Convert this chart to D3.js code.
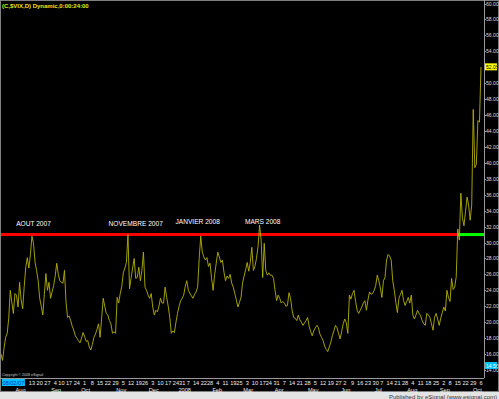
<!DOCTYPE html>
<html>
<head>
<meta charset="utf-8">
<script src="https://cdn.jsdelivr.net/npm/d3@7"></script>
<style>
  body { margin: 0; background: #000; }
  svg { display: block; font-family: "Liberation Sans", Arial, sans-serif; }
</style>
</head>
<body>
<div id="chart"></div>
<script>
// daily closes of $VIX, one per trading day from 2007-07-16 to 2008-10-06
const startDate = "2007-07-16";
const endDate = "2008-10-06";
const holidays = ["2007-09-03", "2007-11-22", "2007-12-25", "2008-01-01", "2008-01-21",
  "2008-02-18", "2008-03-21", "2008-05-26", "2008-07-04", "2008-09-01"];
const vixClose = [
  16.0, 15.2, 16.8, 18.1, 18.6, 20.5, 24.0, 22.5, 21.1, 23.6,
  23.4, 21.9, 25.0, 22.8, 21.7, 24.5, 26.9, 28.1, 26.8, 28.5,
  30.8, 29.9, 27.5, 26.5, 25.2, 23.0, 22.0, 20.9, 23.5, 26.1,
  24.0, 25.0, 23.0, 23.8, 24.6, 25.8, 27.4, 26.0, 25.2, 25.0,
  24.9, 26.5, 22.5, 20.6, 20.8, 20.2, 19.5, 19.0, 18.3, 18.0,
  17.7, 17.4, 18.0, 18.7, 18.2, 17.6, 17.7, 16.9, 16.5, 17.2,
  18.1, 18.5, 19.1, 19.8, 18.1, 20.5, 23.0, 22.0, 21.1, 20.9,
  20.2, 19.8, 18.6, 18.8, 18.6, 23.1, 22.4, 23.6, 24.5, 26.2,
  26.8, 27.5, 31.0, 24.2, 25.5, 26.8, 28.0, 25.5, 25.6, 26.9,
  25.2, 26.5, 28.8, 24.4, 24.0, 23.4, 23.0, 23.6, 21.9, 20.9,
  21.5, 21.3, 22.0, 23.0, 22.4, 22.4, 24.4, 23.1, 22.0, 20.6,
  18.6, 18.9, 18.7, 20.0, 21.1, 22.0, 22.7, 23.0, 23.4, 24.5,
  25.2, 24.0, 23.6, 23.3, 23.0, 23.5, 23.8, 24.4, 28.0, 30.8,
  28.8, 28.2, 27.8, 28.1, 27.0, 27.4, 25.5, 24.0, 26.0, 27.4,
  28.8, 28.2, 27.5, 27.8, 26.3, 25.2, 25.8, 25.5, 26.0, 24.9,
  24.4, 23.6, 22.8, 21.9, 22.5, 23.1, 24.9, 25.8, 26.6, 27.5,
  26.4, 27.5, 29.4, 26.5, 27.0, 28.0, 29.5, 32.2, 30.3, 25.6,
  29.9, 26.5, 25.9, 26.2, 25.9, 25.9, 25.5, 24.0, 22.7, 23.4,
  23.0, 22.4, 22.6, 22.4, 22.0, 22.1, 23.7, 23.0, 21.5, 20.6,
  20.5, 20.2, 20.9, 20.3, 20.0, 19.6, 19.9, 20.2, 20.6, 19.5,
  18.8, 18.3, 18.9, 19.3, 19.6, 19.3, 18.5, 18.1, 17.7, 17.0,
  16.6, 16.3, 16.9, 17.5, 18.3, 18.9, 19.6, 19.3, 18.6, 17.9,
  18.8, 19.8, 20.4, 19.9, 18.6, 23.4, 22.9, 23.6, 24.0, 22.6,
  21.5, 21.1, 21.5, 21.9, 22.4, 22.7, 21.5, 22.8, 23.8, 23.5,
  23.6, 24.0, 24.6, 25.9, 25.2, 24.3, 23.1, 25.2, 25.6, 27.8,
  28.5, 28.3, 27.8, 25.2, 24.0, 22.5, 21.2, 23.0, 23.5, 24.0,
  22.7, 22.1, 22.6, 23.1, 22.4, 23.4, 20.9, 20.4, 20.9, 21.5,
  21.1, 20.8, 20.2, 19.8, 19.6, 21.1, 20.9, 20.6, 19.8, 19.0,
  20.6, 21.1, 20.4, 19.6, 20.5, 21.2, 21.9, 21.4, 24.0, 23.1,
  22.6, 25.5, 24.1, 24.4, 25.7, 31.7, 30.3, 36.2, 33.1, 32.1,
  33.9, 35.7, 34.7, 32.8, 34.7, 46.7, 39.4, 39.8, 45.3, 45.1,
  52.05
];
const priceTicks = d3.range(14, 60.01, 2);
const resistanceLevel = 31;
const breakDate = "2008-09-15";
const noteLabels = ["AOUT 2007", "NOVEMBRE 2007", "JANVIER 2008", "MARS 2008"];
const noteDates = ["2007-08-14", "2007-11-15", "2008-01-15", "2008-03-17"];
const cursorDate = "2007-07-26";
const cursorDateText = "08/02/07";
const cursorPrice = 14.56;
const titleText = "(C,$VIX,D) Dynamic,0:00:24:00";

function tradingDays() {
  var parse = d3.timeParse("%Y-%m-%d");
  var fmt = d3.timeFormat("%Y-%m-%d");
  var days = [];
  d3.timeDay.range(parse(startDate), d3.timeDay.offset(parse(endDate), 1)).forEach((d) => {
    if (d.getDay() == 0 || d.getDay() == 6) return;
    if (holidays.indexOf(fmt(d)) >= 0) return;
    days.push(d);
  });
  return days;
}

function chart() {
  var W = 499, H = 399;
  var plot = { left: 0, right: 484, top: 0, bottom: 378 };
  var fmt = d3.timeFormat("%Y-%m-%d");

  var days = tradingDays();
  var data = days.map((d, i) => ({ date: d, key: fmt(d), i: i, v: vixClose[i] }));
  var idx = (s) => data.findIndex((d) => d.key == s);

  var svg = d3.select("#chart").append("svg").attr("width", W).attr("height", H);
  svg.append("rect").attr("width", W).attr("height", H).attr("fill", "#000");

  var x = d3.scaleLinear().domain([0, data.length - 1]).range([1, 481]);
  var y = d3.scaleLinear().domain([14, 60]).range([370, 3.5]);

  // frame
  svg.append("rect").attr("x", 0.5).attr("y", 0.5).attr("width", W - 1).attr("height", 391)
    .attr("fill", "none").attr("stroke", "#808080");
  svg.append("line").attr("x1", plot.right + 0.5).attr("x2", plot.right + 0.5)
    .attr("y1", 0).attr("y2", plot.bottom).attr("stroke", "#9a9a9a");
  svg.append("line").attr("x1", 0).attr("x2", plot.right).attr("y1", plot.bottom + 0.5)
    .attr("y2", plot.bottom + 0.5).attr("stroke", "#9a9a9a");

  // bottom status strip
  svg.append("rect").attr("x", 0).attr("y", 392).attr("width", W).attr("height", 7).attr("fill", "#e4e4e4");
  svg.append("text").attr("x", 497).attr("y", 398.5).attr("text-anchor", "end")
    .attr("font-size", "6px").attr("fill", "#333").text("Published by eSignal (www.esignal.com)");

  // title
  svg.append("text").attr("x", 2).attr("y", 8).attr("font-size", "6px").attr("font-weight", "bold")
    .attr("fill", "#e8e800").text(titleText);

  svg.append("text").attr("x", 2).attr("y", 376).attr("font-size", "3.6px").attr("fill", "#ccc")
    .text("Copyright \u00a9 2008 eSignal");

  // right price axis
  var yAxis = svg.append("g");
  yAxis.selectAll("text").data(priceTicks).join("text")
    .attr("x", 486).attr("y", (d) => y(d) + 2)
    .attr("font-size", "5.1px").attr("fill", "#ddd")
    .text((d) => d.toFixed(2));
  yAxis.selectAll("line").data(priceTicks).join("line")
    .attr("x1", plot.right).attr("x2", plot.right + 2)
    .attr("y1", (d) => Math.round(y(d)) + 0.5).attr("y2", (d) => Math.round(y(d)) + 0.5)
    .attr("stroke", "#9a9a9a");

  // time axis: first trading day of each week / month
  var xc = x(idx(cursorDate));
  var weekStarts = data.filter((d, i) => i == 0 || +d3.timeMonday.floor(d.date) != +d3.timeMonday.floor(data[i - 1].date));
  var monthStarts = data.filter((d, i) => i == 0 || d.date.getMonth() != data[i - 1].date.getMonth());

  svg.append("g").selectAll("text").data(weekStarts.filter((d) => x(d.i) > xc + 16)).join("text")
    .attr("x", (d) => x(d.i)).attr("y", 385).attr("text-anchor", "middle")
    .attr("font-size", "5.6px").attr("fill", "#eee")
    .text((d) => d.date.getDate());
  svg.append("g").selectAll("text").data(monthStarts.filter((d) => d.date.getDate() < 8)).join("text")
    .attr("x", (d) => x(d.i) + 1).attr("y", 391.5).attr("text-anchor", "middle")
    .attr("font-size", "5.6px").attr("fill", "#eee")
    .text((d) => (d.date.getMonth() == 0 ? d3.timeFormat("%Y")(d.date) : d3.timeFormat("%b")(d.date)));

  // resistance line: red before the break, green after
  var xb = x(idx(breakDate));
  svg.append("line").attr("x1", 1).attr("x2", xb).attr("y1", y(resistanceLevel)).attr("y2", y(resistanceLevel))
    .attr("stroke", "#ff0000").attr("stroke-width", 3);
  svg.append("line").attr("x1", xb).attr("x2", plot.right).attr("y1", y(resistanceLevel)).attr("y2", y(resistanceLevel))
    .attr("stroke", "#00ff00").attr("stroke-width", 3);

  // price line
  var line = d3.line().x((d) => x(d.i)).y((d) => y(d.v));
  svg.append("path").datum(data).attr("d", line)
    .attr("fill", "none").attr("stroke", "#b4b000").attr("stroke-width", 0.9);

  // notes
  svg.append("g").selectAll("text").data(noteLabels).join("text")
    .attr("x", (d, i) => x(idx(noteDates[i])))
    .attr("y", (d, i) => y(resistanceLevel) - (i < 2 ? 9 : 11))
    .attr("text-anchor", "middle").attr("font-size", "6.6px").attr("fill", "#fff")
    .text((d) => d);

  // last price marker
  var last = data[data.length - 1];
  svg.append("rect").attr("x", 485).attr("y", y(last.v) - 3.5).attr("width", 12).attr("height", 7).attr("fill", "#ffff00");
  svg.append("text").attr("x", 486).attr("y", y(last.v) + 2).attr("font-size", "5.1px").attr("fill", "#000")
    .text(last.v.toFixed(2));

  // cursor markers
  svg.append("rect").attr("x", 485).attr("y", y(cursorPrice) - 3.5).attr("width", 12).attr("height", 7).attr("fill", "#00c0ff");
  svg.append("text").attr("x", 486).attr("y", y(cursorPrice) + 2).attr("font-size", "5.1px").attr("fill", "#fff")
    .text(cursorPrice.toFixed(2));
  svg.append("rect").attr("x", xc - 11.5).attr("y", 379).attr("width", 23).attr("height", 7).attr("fill", "#00c0ff");
  svg.append("text").attr("x", xc).attr("y", 385).attr("text-anchor", "middle").attr("font-size", "5.6px")
    .attr("fill", "#0030c0").text(cursorDateText);
}

chart();
</script>
</body>
</html>
